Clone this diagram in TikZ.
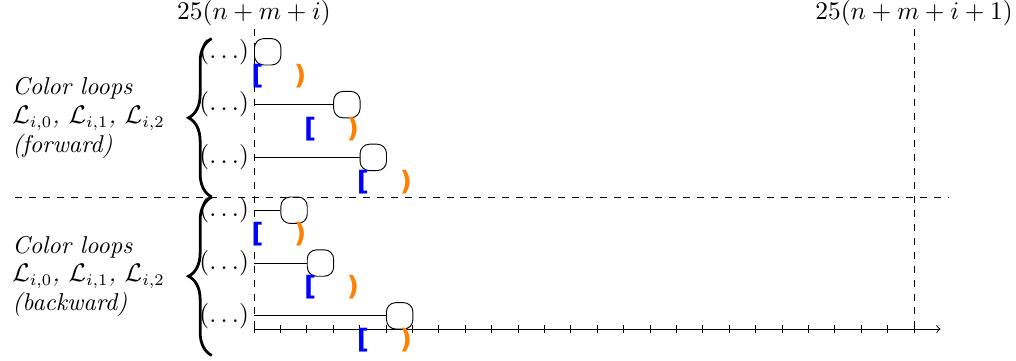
\documentclass[tikz,border=0pt]{standalone}
\usepackage{fontspec}
\newfontfamily\brkfont{DejaVu Sans}
\usetikzlibrary{decorations.pathreplacing}
\begin{document}
\begin{tikzpicture}[x=0.4cm,y=0.4cm,
  slot/.style={draw, rounded corners=4pt, minimum width=0.4cm, minimum height=0.4cm, inner sep=0pt, anchor=west},
  dots/.style={anchor=east, inner sep=2pt},
  conn/.style={thin},
  guide/.style={dashed},
  lbr/.style={text=blue, font=\fontsize{11.5pt}{13pt}\brkfont\bfseries, inner sep=0pt, anchor=west},
  rbr/.style={text=orange, font=\fontsize{11.5pt}{13pt}\brkfont\bfseries, inner sep=0pt, anchor=east},
  grp/.style={decorate, decoration={brace, amplitude=10pt}, very thick},
  side/.style={anchor=west, align=left, font=\itshape, inner sep=0pt},
  toplabel/.style={anchor=south, inner sep=1pt}
]
\fontsize{10.5pt}{12.4pt}\selectfont
\useasboundingbox (-9.62,-1.174) rectangle (28.86,12.462);

% axis
\coordinate (o) at (0,0);
\coordinate (axend) at (26,0);
\draw[->] (o) -- (axend);
\foreach \i in {0,...,25} \draw (\i,-1.7pt) -- (\i,1.7pt);

% vertical guides
\node[toplabel] (t0) at (0,11.36) {$25(n+m+i)$};
\node[toplabel] (t1) at (25,11.36) {$25(n+m+i+1)$};
\coordinate (b0) at (0,0);
\coordinate (b1) at (25,0);
\draw[guide] (t0.south) -- (b0);
\draw[guide] (t1.south) -- (b1);

% horizontal separator
\coordinate (hl) at (-9.05,5);
\coordinate (hr) at (26.29,5);
\draw[guide] (hl) -- (hr);

% braces
\coordinate (ua) at (-1.6,5);
\coordinate (ub) at (-1.6,11);
\coordinate (la) at (-1.6,-1);
\coordinate (lb) at (-1.6,5);
\draw[grp] (ua) -- (ub);
\draw[grp] (la) -- (lb);

% side labels
\node[side] (fw) at (-9.17,8) {Color loops\\ $\mathcal{L}_{i,0}$, $\mathcal{L}_{i,1}$, $\mathcal{L}_{i,2}$\\ (forward)};
\node[side] (bw) at (-9.17,2) {Color loops\\ $\mathcal{L}_{i,0}$, $\mathcal{L}_{i,1}$, $\mathcal{L}_{i,2}$\\ (backward)};

% rows: y, box x, interval start
\foreach \n/\y/\bx/\a in {1/10.5/0/0, 2/8.5/3/2, 3/6.5/4/4, 4/4.5/1/0, 5/2.5/2/2, 6/0.5/5/4}{
  \node[dots] (d\n) at (0,\y) {$(\ldots)$};
  \node[slot] (s\n) at (\bx,\y) {};
  \draw[conn] (d\n.east) -- (s\n.west);
  \node[lbr] (l\n) at (\a-0.12,\y-0.92) {[};
  \node[rbr] (r\n) at (\a+2,\y-0.92) {)};
}
\end{tikzpicture}
\end{document}
